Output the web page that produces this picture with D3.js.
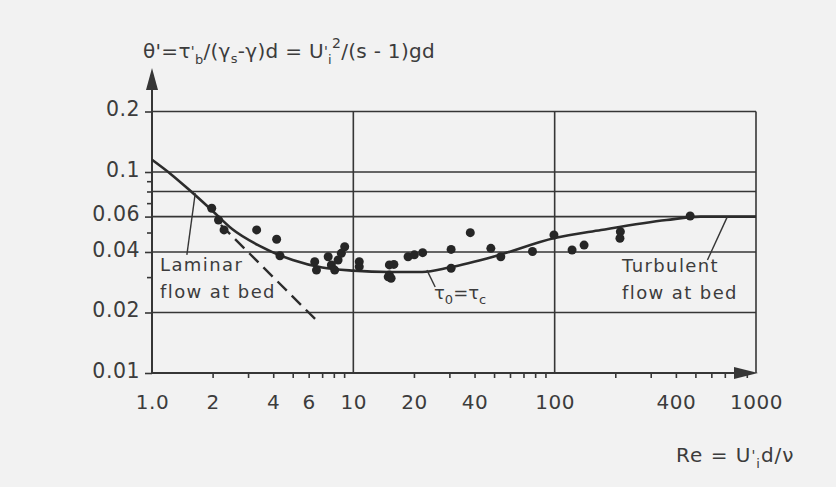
<!DOCTYPE html>
<html>
<head>
<meta charset="utf-8">
<script src="https://cdn.jsdelivr.net/npm/d3@7"></script>
<style>
  body { margin: 0; background: #f2f2f2; }
  svg { display: block; font-family: "DejaVu Sans", sans-serif; }
</style>
</head>
<body>
<div id="chart"></div>
<script>
// Shields curve
var curveRe    = [1, 1.25, 1.5, 2, 2.5, 3.4, 5, 7, 10, 15, 22, 30, 50, 100, 170, 360, 530, 1000];
var curveTheta = [0.115, 0.097, 0.083, 0.064, 0.052, 0.043, 0.0365, 0.0335, 0.0323, 0.0318, 0.0318, 0.0335, 0.038, 0.047, 0.0515, 0.0577, 0.06, 0.06];

// laminar flow at bed (dashed)
var laminarRe    = [2.2, 6.7];
var laminarTheta = [0.0545, 0.0179];

// measured points
var pointRe    = [1.98, 2.14, 2.28, 3.31, 4.16, 4.32, 6.43, 6.56, 7.5, 7.78, 8.08, 8.4, 9.06, 8.72, 10.7, 10.7,
                  15.1, 15.1, 14.9, 15.4, 15.9, 18.7, 20.1, 22.1, 30.6, 30.6, 38.1, 48.2, 54, 77.6, 99.2, 122, 140, 212, 211, 471];
var pointTheta = [0.066, 0.0577, 0.0515, 0.0515, 0.0463, 0.0383, 0.0358, 0.0325, 0.0379, 0.0345, 0.0325, 0.0365, 0.0425, 0.0394, 0.0358, 0.0338,
                  0.0345, 0.0307, 0.0301, 0.0296, 0.0347, 0.0379, 0.0387, 0.0397, 0.0412, 0.0332, 0.0499, 0.0417, 0.0379, 0.0402, 0.0486, 0.0409, 0.0433, 0.0505, 0.0468, 0.0604];

var xTickValues = [1, 2, 4, 6, 10, 20, 40, 100, 400, 1000];
var xTickLabels = ["1.0", "2", "4", "6", "10", "20", "40", "100", "400", "1000"];
var xMinorTicks = [2, 3, 4, 5, 6, 7, 8, 9, 20, 30, 40, 50, 60, 70, 80, 90, 200, 300, 400, 500, 600, 700, 800, 900];
var xGridValues = [10, 100, 1000];

var yTickValues = [0.01, 0.02, 0.04, 0.06, 0.1, 0.2];
var yTickLabels = ["0.01", "0.02", "0.04", "0.06", "0.1", "0.2"];
var yMinorTicks = [0.03, 0.05, 0.07, 0.08, 0.09];
var yGridValues = [0.02, 0.04, 0.06, 0.08, 0.1, 0.2];

var svgWidth = 836, svgHeight = 487;
var ink = "#363636";
var textInk = "#3c3c3c";

var svg = d3.select("#chart")
  .append("svg")
  .attr("width", svgWidth)
  .attr("height", svgHeight);

svg.append("rect")
  .attr("width", svgWidth)
  .attr("height", svgHeight)
  .attr("fill", "#f2f2f2");

var x = d3.scaleLog().domain([1, 1000]).range([152, 756]);
var y = d3.scaleLog().domain([0.01, 0.2]).range([373, 111.5]);

// grid
svg.append("g").selectAll("line")
  .data(yGridValues)
  .enter()
  .append("line")
  .attr("x1", x(1)).attr("x2", x(1000))
  .attr("y1", d => y(d)).attr("y2", d => y(d))
  .attr("stroke", ink).attr("stroke-width", 1.6);

svg.append("g").selectAll("line")
  .data(xGridValues)
  .enter()
  .append("line")
  .attr("x1", d => x(d)).attr("x2", d => x(d))
  .attr("y1", y(0.2)).attr("y2", y(0.01))
  .attr("stroke", ink).attr("stroke-width", 1.6);

// x axis: minor ticks, then labels
var xMinor = svg.append("g")
  .attr("transform", `translate(0, ${y(0.01)})`)
  .call(d3.axisBottom(x).tickValues(xMinorTicks).tickSize(5).tickFormat(""));

var xAxis = svg.append("g")
  .attr("transform", `translate(0, ${y(0.01)})`)
  .call(d3.axisBottom(x).tickValues(xTickValues).tickSize(0).tickPadding(22)
    .tickFormat((d, i) => xTickLabels[i]));

// y axis
var yMinor = svg.append("g")
  .attr("transform", `translate(${x(1)}, 0)`)
  .call(d3.axisLeft(y).tickValues(yMinorTicks).tickSize(5).tickFormat(""));

var yAxis = svg.append("g")
  .attr("transform", `translate(${x(1)}, 0)`)
  .call(d3.axisLeft(y).tickValues(yTickValues).tickSize(7).tickPadding(5)
    .tickFormat((d, i) => yTickLabels[i]));

[xMinor, xAxis, yMinor, yAxis].forEach(function(g) {
  g.select(".domain").remove();
  g.selectAll("line").attr("stroke", ink).attr("stroke-width", 1.6);
  g.selectAll("text")
    .attr("fill", textInk)
    .attr("font-size", 20)
    .attr("letter-spacing", 0.5)
    .attr("font-family", "DejaVu Sans, sans-serif");
});
yAxis.selectAll("text").attr("dy", "0.2em").attr("font-size", 20.5);

// axis lines with arrows
svg.append("line")
  .attr("x1", x(1)).attr("x2", x(1))
  .attr("y1", y(0.01)).attr("y2", 80)
  .attr("stroke", ink).attr("stroke-width", 2);
svg.append("path")
  .attr("d", `M${x(1)},68 L${x(1) - 6},90 L${x(1) + 6},90 Z`)
  .attr("fill", ink);

svg.append("line")
  .attr("x1", x(1)).attr("x2", x(1000) - 10)
  .attr("y1", y(0.01)).attr("y2", y(0.01))
  .attr("stroke", ink).attr("stroke-width", 2);
svg.append("path")
  .attr("d", `M${x(1000) + 2},${y(0.01)} L${x(1000) - 22},${y(0.01) - 6} L${x(1000) - 22},${y(0.01) + 6} Z`)
  .attr("fill", ink);

// curve
var line = d3.line()
  .x(d => x(d[0]))
  .y(d => y(d[1]))
  .curve(d3.curveMonotoneX);

svg.append("path")
  .datum(curveRe.map((r, i) => [r, curveTheta[i]]))
  .attr("d", line)
  .attr("fill", "none")
  .attr("stroke", "#2c2c2c")
  .attr("stroke-width", 2.6);

svg.append("path")
  .datum(laminarRe.map((r, i) => [r, laminarTheta[i]]))
  .attr("d", d3.line().x(d => x(d[0])).y(d => y(d[1])))
  .attr("fill", "none")
  .attr("stroke", "#2c2c2c")
  .attr("stroke-width", 2.4)
  .attr("stroke-dasharray", "13,7");

// points
svg.append("g").selectAll("circle")
  .data(pointRe.map((r, i) => [r, pointTheta[i]]))
  .enter()
  .append("circle")
  .attr("cx", d => x(d[0]))
  .attr("cy", d => y(d[1]))
  .attr("r", 4.5)
  .attr("fill", "#262626");

// leader lines
var leaders = [
  [[1.64, 0.0785], [1.49, 0.0387]],
  [[23.2, 0.0325], [25.5, 0.0268]],
  [[720, 0.0598], [574, 0.0365]]
];
svg.append("g").selectAll("line")
  .data(leaders)
  .enter()
  .append("line")
  .attr("x1", d => x(d[0][0])).attr("y1", d => y(d[0][1]))
  .attr("x2", d => x(d[1][0])).attr("y2", d => y(d[1][1]))
  .attr("stroke", ink).attr("stroke-width", 1.4);

// labels
function label(tx, ty, str) {
  return svg.append("text")
    .attr("x", tx).attr("y", ty)
    .attr("font-size", 18)
    .attr("fill", textInk)
    .attr("letter-spacing", 1.4)
    .text(str);
}
label(160, 271, "Laminar");
label(160, 298, "flow at bed");
label(622, 272, "Turbulent");
label(622, 299, "flow at bed");

var tau = svg.append("text")
  .attr("x", 434).attr("y", 299)
  .attr("font-size", 18)
  .attr("fill", textInk);
tau.append("tspan").text("τ");
tau.append("tspan").attr("dy", 5).attr("font-size", 13).text("0");
tau.append("tspan").attr("dy", -5).text("=τ");
tau.append("tspan").attr("dy", 5).attr("font-size", 13).text("c");

// y title: primes raised, subscripts lowered
var yt = svg.append("text")
  .attr("x", 143).attr("y", 58)
  .attr("font-size", 20)
  .attr("letter-spacing", 0.3)
  .attr("fill", textInk);
yt.append("tspan").text("θ'=τ");
yt.append("tspan").attr("dy", -2).attr("font-size", 14).text("'");
yt.append("tspan").attr("dy", 8).attr("font-size", 13).text("b");
yt.append("tspan").attr("dy", -6).text("/(γ");
yt.append("tspan").attr("dy", 5).attr("font-size", 13).text("s");
yt.append("tspan").attr("dy", -5).text("-γ)d = U");
yt.append("tspan").attr("dy", -2).attr("font-size", 14).text("'");
yt.append("tspan").attr("dy", 8).attr("font-size", 13).text("i");
yt.append("tspan").attr("dy", -16).attr("font-size", 14).text("2");
yt.append("tspan").attr("dy", 10).text("/(s - 1)gd");

// x title
var xt = svg.append("text")
  .attr("x", 676).attr("y", 462)
  .attr("font-size", 20)
  .attr("letter-spacing", 1)
  .attr("fill", textInk);
xt.append("tspan").text("Re = U");
xt.append("tspan").attr("dy", -2).attr("font-size", 14).text("'");
xt.append("tspan").attr("dy", 8).attr("font-size", 13).text("i");
xt.append("tspan").attr("dy", -6).text("d/ν");
</script>
</body>
</html>
